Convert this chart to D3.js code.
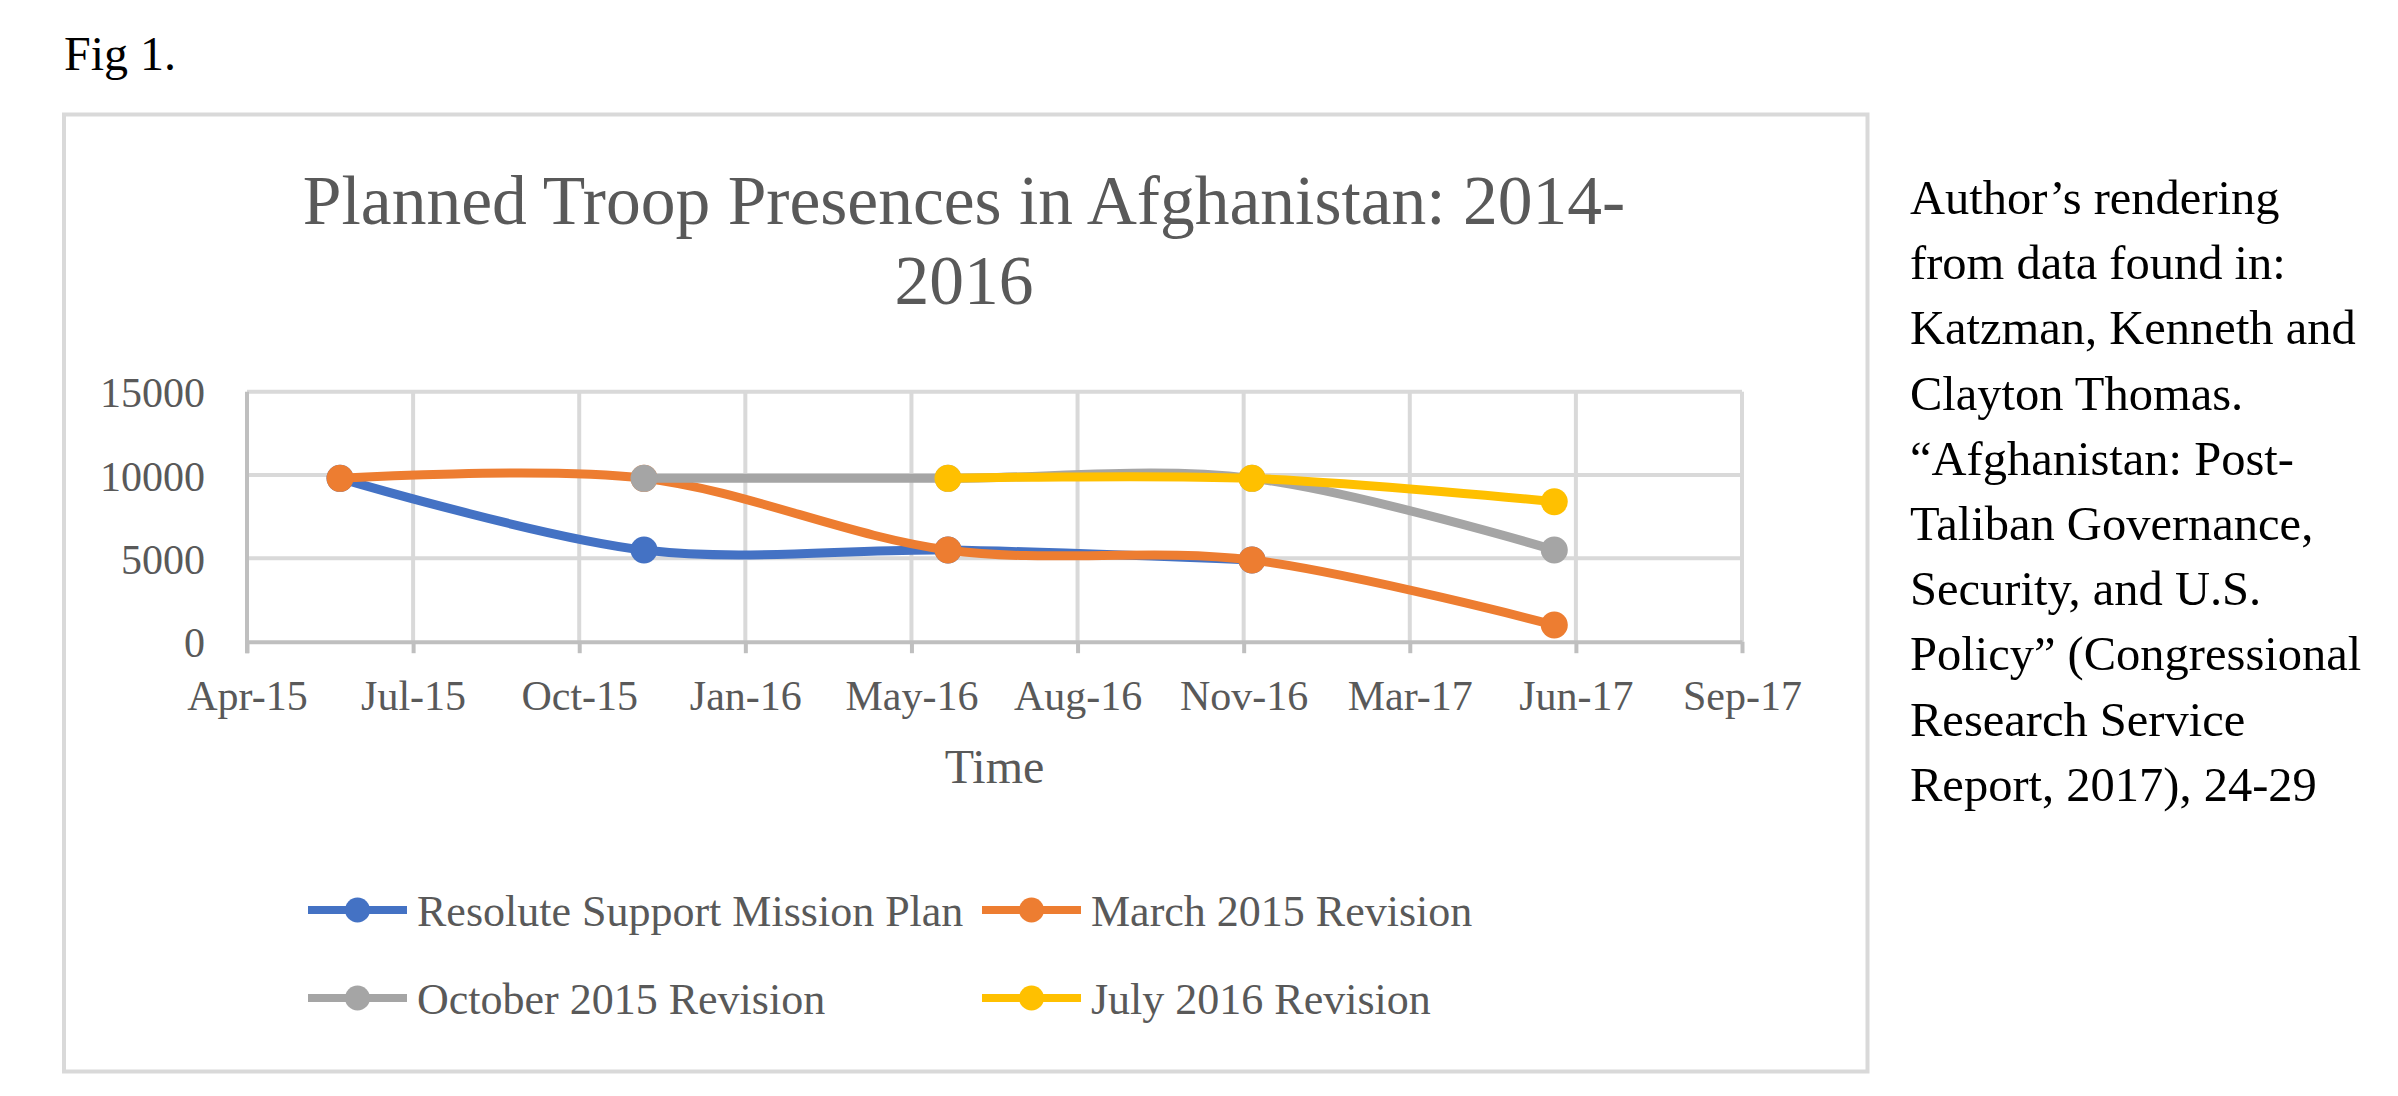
<!DOCTYPE html>
<html><head><meta charset="utf-8">
<script src="https://cdn.jsdelivr.net/npm/d3@7"></script>
<style>body{margin:0;background:#fff}svg{display:block}</style>
</head><body><svg id="c" width="2398" height="1096"></svg>
<script>
// ---------- data ----------
const seriesNames = ["Resolute Support Mission Plan", "March 2015 Revision", "October 2015 Revision", "July 2016 Revision"];
const seriesColors = ["#4472C4", "#ED7D31", "#A5A5A5", "#FFC000"];
const resoluteDates = ["2015-06-01", "2015-12-01", "2016-06-01", "2016-12-01"];
const resoluteValues = [9800, 5500, 5500, 4900];
const march2015Dates = ["2015-06-01", "2015-12-01", "2016-06-01", "2016-12-01", "2017-06-01"];
const march2015Values = [9800, 9800, 5500, 4900, 1000];
const october2015Dates = ["2015-12-01", "2016-06-01", "2016-12-01", "2017-06-01"];
const october2015Values = [9800, 9800, 9800, 5500];
const july2016Dates = ["2016-06-01", "2016-12-01", "2017-06-01"];
const july2016Values = [9800, 9800, 8400];
const xTickDates = ["2015-04-06", "2015-07-15", "2015-10-23", "2016-01-31", "2016-05-10", "2016-08-18", "2016-11-26", "2017-03-06", "2017-06-14", "2017-09-22"];
const yTicks = [0, 5000, 10000, 15000];
const yDomain = [0, 15000];
const figLabel = "Fig 1.";
const titleLines = ["Planned Troop Presences in Afghanistan: 2014-", "2016"];
const xAxisTitle = "Time";
const noteLines = ["Author\u2019s rendering", "from data found in:", "Katzman, Kenneth and", "Clayton Thomas.",
  "\u201cAfghanistan: Post-", "Taliban Governance,", "Security, and U.S.", "Policy\u201d (Congressional",
  "Research Service", "Report, 2017), 24-29"];

// ---------- setup ----------
const parse = d3.utcParse("%Y-%m-%d");
const fmt = d3.utcFormat("%b-%y");
const serif = "'Liberation Serif','Times New Roman',Times,serif";
const textGray = "#595959";
const gridCol = "#D9D9D9";
const axisCol = "#BFBFBF";

const svg = d3.select("#c");
svg.append("rect").attr("width", 2398).attr("height", 1096).attr("fill", "#fff");

const plot = {left: 247, right: 1742, top: 391.7, bottom: 641.7};
const tickDates = xTickDates.map(parse);
const x = d3.scaleUtc().domain([tickDates[0], tickDates[tickDates.length - 1]]).range([plot.left, plot.right]);
const y = d3.scaleLinear().domain(yDomain).range([plot.bottom, plot.top]);

const series = [
  {dates: resoluteDates, values: resoluteValues},
  {dates: march2015Dates, values: march2015Values},
  {dates: october2015Dates, values: october2015Values},
  {dates: july2016Dates, values: july2016Values}
].map((s, i) => ({name: seriesNames[i], color: seriesColors[i],
  points: s.dates.map((d, j) => ({date: parse(d), value: s.values[j]}))}));

// Fig label
svg.append("text").attr("x", 64).attr("y", 70).attr("font-family", serif).attr("font-size", 48)
  .attr("fill", "#000").text(figLabel);

// chart frame
svg.append("rect").attr("x", 64).attr("y", 114.5).attr("width", 1803.5).attr("height", 957)
  .attr("fill", "#fff").attr("stroke", gridCol).attr("stroke-width", 4);

// title
svg.append("g").selectAll("text").data(titleLines).join("text")
  .attr("x", 964).attr("y", (d, i) => 224 + i * 80).attr("text-anchor", "middle")
  .attr("font-family", serif).attr("font-size", 69.5).attr("fill", textGray).text(d => d);

// gridlines
svg.append("g").selectAll("line").data(yTicks.filter(v => v > 0)).join("line")
  .attr("x1", plot.left).attr("x2", plot.right).attr("y1", d => y(d)).attr("y2", d => y(d))
  .attr("stroke", gridCol).attr("stroke-width", 4);
svg.append("g").selectAll("line").data(tickDates.slice(1)).join("line")
  .attr("x1", d => x(d)).attr("x2", d => x(d)).attr("y1", plot.top).attr("y2", plot.bottom)
  .attr("stroke", gridCol).attr("stroke-width", 4);

// y axis
const yAxis = svg.append("g").attr("transform", `translate(${plot.left},0)`)
  .call(d3.axisLeft(y).tickValues(yTicks).tickSize(0).tickPadding(42).tickFormat(d3.format("d")));
yAxis.select(".domain").attr("stroke", axisCol).attr("stroke-width", 4).attr("d", `M0,${plot.top}V${plot.bottom + 11.5}`);
yAxis.selectAll("text").attr("font-family", serif).attr("font-size", 42).attr("fill", textGray).attr("dy", "0.36em");

// x axis
const xAxis = svg.append("g").attr("transform", `translate(0,${plot.bottom})`)
  .call(d3.axisBottom(x).tickValues(tickDates).tickSize(11.5).tickSizeOuter(0).tickFormat(fmt));
xAxis.select(".domain").attr("stroke", axisCol).attr("stroke-width", 4);
xAxis.selectAll(".tick line").attr("stroke", axisCol).attr("stroke-width", 4);
xAxis.selectAll("text").attr("font-family", serif).attr("font-size", 42).attr("fill", textGray)
  .attr("y", 68.5).attr("dy", 0);

// x axis title
svg.append("text").attr("x", (plot.left + plot.right) / 2).attr("y", 782.7).attr("text-anchor", "middle")
  .attr("font-family", serif).attr("font-size", 48).attr("fill", textGray).text(xAxisTitle);

// series
const line = d3.line().x(d => x(d.date)).y(d => y(d.value)).curve(d3.curveCardinal.tension(0));
series.forEach(s => {
  const g = svg.append("g");
  g.append("path").attr("d", line(s.points)).attr("fill", "none").attr("stroke", s.color)
    .attr("stroke-width", 9).attr("stroke-linecap", "round").attr("stroke-linejoin", "round");
  g.selectAll("circle").data(s.points).join("circle")
    .attr("cx", d => x(d.date)).attr("cy", d => y(d.value)).attr("r", 13.5).attr("fill", s.color);
});

// legend
const legendPos = [[308, 910], [982, 910], [308, 998], [982, 998]];
const lg = svg.append("g").selectAll("g").data(series).join("g")
  .attr("transform", (d, i) => `translate(${legendPos[i][0]},${legendPos[i][1]})`);
lg.append("line").attr("x1", 0).attr("x2", 99).attr("y1", 0).attr("y2", 0)
  .attr("stroke", d => d.color).attr("stroke-width", 8);
lg.append("circle").attr("cx", 49.5).attr("cy", 0).attr("r", 12.5).attr("fill", d => d.color);
lg.append("text").attr("x", 109).attr("y", 16).attr("font-family", serif).attr("font-size", 44)
  .attr("fill", textGray).text(d => d.name);

// source note
svg.append("g").selectAll("text").data(noteLines).join("text")
  .attr("x", 1910).attr("y", (d, i) => 214 + i * 65.2)
  .attr("font-family", serif).attr("font-size", 48.5).attr("fill", "#000").text(d => d);
</script>
</body></html>
